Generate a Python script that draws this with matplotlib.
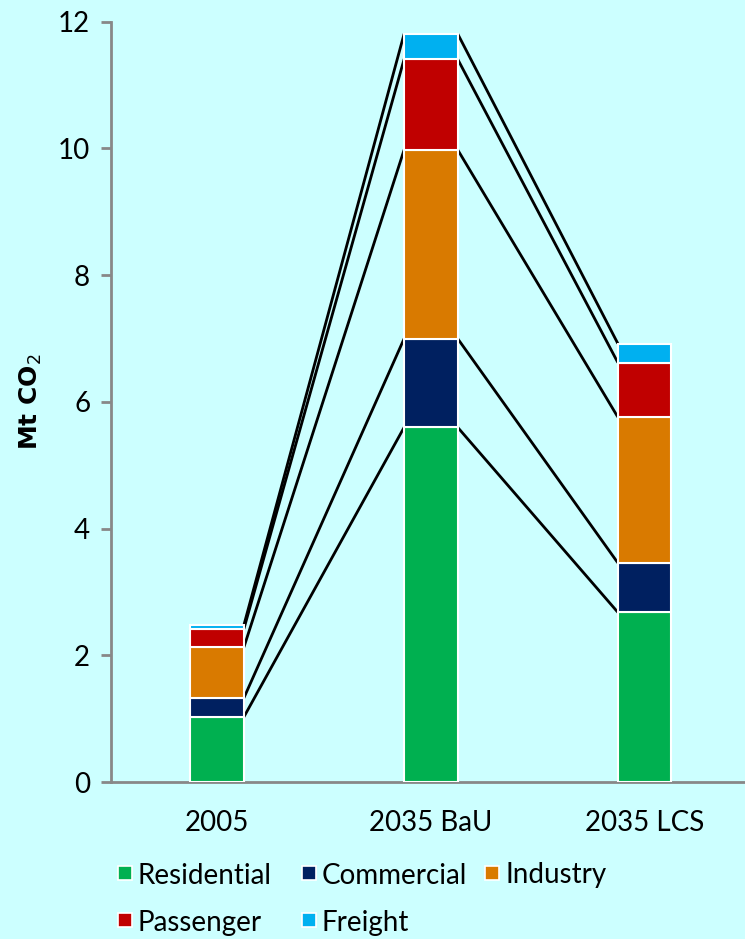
import numpy as np
import matplotlib
matplotlib.use("Agg")
import matplotlib.pyplot as plt
from matplotlib.patches import Rectangle

# Emissions by sector, Mt CO2
scenarios = ["2005", "2035 BaU", "2035 LCS"]
residential = [1.03, 5.60, 2.68]
commercial = [0.30, 1.40, 0.78]
industry = [0.80, 2.98, 2.30]
passenger = [0.29, 1.43, 0.86]
freight = [0.06, 0.40, 0.30]

sectors = ["Residential", "Commercial", "Industry", "Passenger", "Freight"]
colors = ["#00B050", "#002060", "#D97A00", "#C00000", "#00B0F0"]
BG = "#CCFFFF"
W, H = 745, 939

plt.rcParams["font.family"] = ["Lato", "DejaVu Sans"]

fig = plt.figure(figsize=(W / 100, H / 100), dpi=100, facecolor=BG)
ax = fig.add_axes([0.149, 0.167, 0.851, 0.810], facecolor=BG)

x = np.arange(len(scenarios))
width = 0.25
series = [residential, commercial, industry, passenger, freight]
bottom = np.zeros(len(scenarios))
tops = []
for vals, col, name in zip(series, colors, sectors):
    vals = np.array(vals)
    ax.bar(x, vals, width, bottom=bottom, color=col, edgecolor="white",
           linewidth=1.5, label=name, zorder=3)
    bottom = bottom + vals
    tops.append(bottom.copy())

# connector lines between segment tops of neighbouring bars
for t in tops:
    for i in range(len(x) - 1):
        ax.plot([x[i] + width / 2, x[i + 1] - width / 2], [t[i], t[i + 1]],
                color="black", linewidth=2, zorder=2, solid_capstyle="butt")

ax.set_xlim(-0.497, 2.47)
ax.set_ylim(0, 12)
ax.set_yticks(range(0, 13, 2))
ax.set_xticks(x)
ax.set_xticklabels(scenarios)
ax.tick_params(axis="y", labelsize=20, color="#888888", length=7, width=2, pad=8)
ax.tick_params(axis="x", labelsize=20, length=0, pad=20)
for s in ["top", "right"]:
    ax.spines[s].set_visible(False)
for s in ["left", "bottom"]:
    ax.spines[s].set_color("#888888")
    ax.spines[s].set_linewidth(2)
ax.set_ylabel("Mt CO$_2$", fontsize=18, fontweight="bold", labelpad=10,
              family="DejaVu Sans")

# legend laid out in two rows, left to right
entries = [(0, 118, 873), (1, 302, 873), (2, 485, 873),
           (3, 118, 920), (4, 302, 920)]
for idx, px, py in entries:
    sz = 14
    fig.patches.append(Rectangle((px / W, (H - py - sz / 2) / H), sz / W, sz / H,
                                 transform=fig.transFigure, facecolor=colors[idx],
                                 edgecolor="white", linewidth=1.2))
    fig.text((px + sz + 6) / W, (H - py) / H, sectors[idx], fontsize=20,
             va="center_baseline", ha="left")

fig.savefig("out.png", dpi=100, facecolor=BG)
